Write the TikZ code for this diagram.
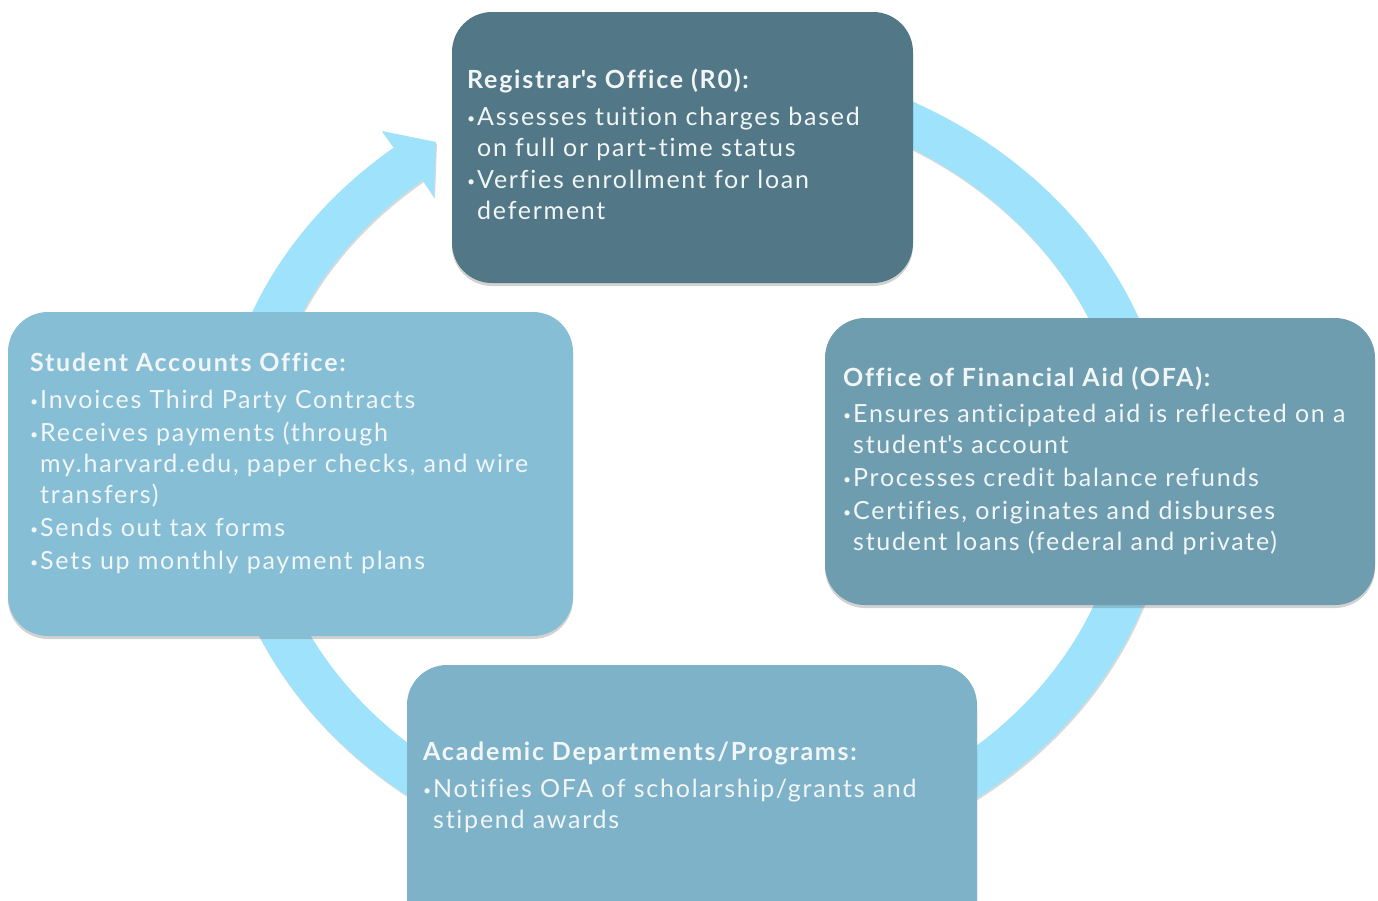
\documentclass[tikz,border=0pt]{standalone}
\usepackage{fontspec}
\setmainfont{Lato}[LetterSpace=7, Ligatures={NoCommon}]
\usetikzlibrary{calc,shadows}

\definecolor{roblue}{HTML}{527786}
\definecolor{ofablue}{HTML}{6E9DB0}
\definecolor{saoblue}{HTML}{86BED5}
\definecolor{acadblue}{HTML}{7EB2C8}
\definecolor{ringblue}{HTML}{9EE3FB}
\definecolor{paletext}{HTML}{F2F6F7}

\newcommand{\bul}{\makebox[10pt][l]{\raisebox{2pt}{\fontsize{14}{14}\selectfont\textbullet}}}
\newcommand{\ind}{\hspace*{10pt}}

\tikzset{
  officebox/.style={rounded corners=40pt, draw=none, inner sep=0pt,
    drop shadow={shadow xshift=0pt, shadow yshift=-3pt, opacity=0.25, fill=black!70}},
  officetext/.style={anchor=north west, inner sep=0pt, align=left, text=paletext,
    font=\fontsize{25}{31}\selectfont},
}

\begin{document}
\begin{tikzpicture}[x=1pt,y=1pt]
  \useasboundingbox (0,0) rectangle (1378,-900);

  % ring with arrow head
  \coordinate (ctr) at (694,-467);
  \coordinate (barbout) at (382,-131);
  \coordinate (tip) at (436,-142);
  \coordinate (barbin) at (434,-197);
  \fill[ringblue, drop shadow={shadow xshift=1pt, shadow yshift=-2pt, opacity=0.15, fill=black}]
    ($(ctr)+(80:477pt and 411pt)$) arc[start angle=80, end angle=-231, x radius=477pt, y radius=411pt]
    -- (barbout) -- (tip) -- (barbin)
    -- ($(ctr)+(-231:431pt and 369pt)$) arc[start angle=-231, end angle=80, x radius=431pt, y radius=369pt]
    -- cycle;

  % boxes
  \node[officebox, fill=roblue, minimum width=461pt, minimum height=271pt] (ro) at (682.5,-147.5) {};
  \node[officebox, fill=ofablue, minimum width=550pt, minimum height=287pt] (ofa) at (1100,-461.5) {};
  \node[officebox, fill=saoblue, minimum width=565pt, minimum height=324pt] (sao) at (290.5,-474) {};
  \node[officebox, fill=acadblue, minimum width=570pt, minimum height=290pt] (acad) at (692,-810) {};

  % texts
  \node[officetext] (ro-text) at (467,-68.5) {\textbf{Registrar\textquotesingle s Office (R0):}\\[6pt]
    \bul Assesses tuition charges based\\
    \ind on full or part-time status\\[1pt]
    \bul Verfies enrollment for loan\\
    \ind deferment};

  \node[officetext] (ofa-text) at (843,-367) {\textbf{Office of Financial Aid (OFA):}\\[5pt]
    \bul Ensures anticipated aid is reflected on a\\
    \ind student\textquotesingle s account\\[2pt]
    \bul Processes credit balance refunds\\[2pt]
    \bul Certifies, originates and disburses\\
    \ind student loans (federal and private)};

  \node[officetext] (sao-text) at (30,-353) {\textbf{Student Accounts Office:}\\[6pt]
    \bul Invoices Third Party Contracts\\[2pt]
    \bul Receives payments (through\\
    \ind my.harvard.edu, paper checks, and wire\\
    \ind transfers)\\[2pt]
    \bul Sends out tax forms\\[2pt]
    \bul Sets up monthly payment plans};

  \node[officetext] (acad-text) at (423,-742) {\textbf{Academic Departments/Programs:}\\[6pt]
    \bul Notifies OFA of scholarship/grants and\\
    \ind stipend awards};
\end{tikzpicture}
\end{document}
